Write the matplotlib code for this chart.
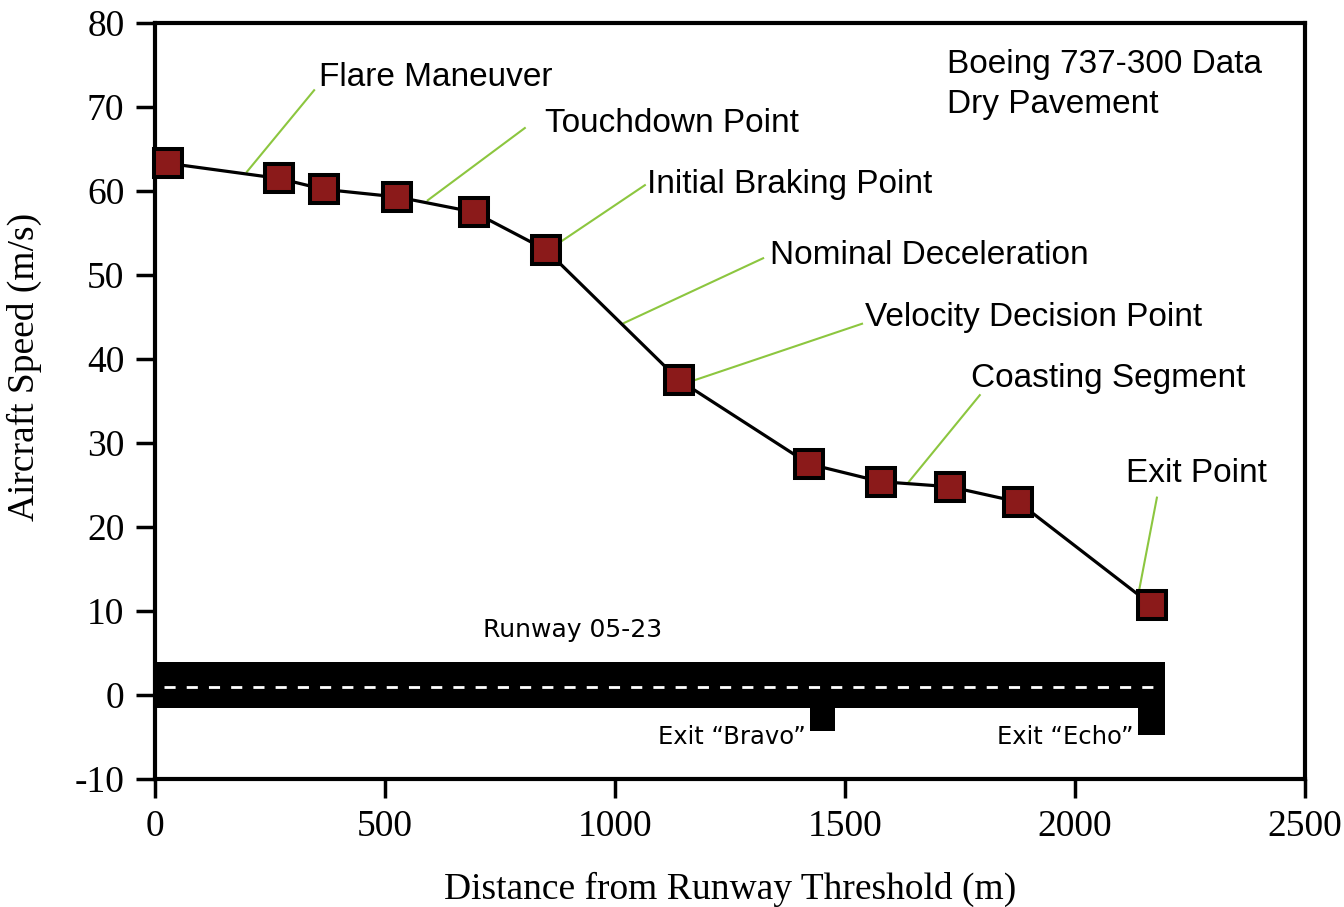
import matplotlib
matplotlib.use('Agg')
import matplotlib.pyplot as plt

plt.rcParams['axes.unicode_minus'] = False

# landing roll data
dist = [28, 270, 367, 526, 693, 850, 1139, 1422, 1578, 1728, 1876, 2167]
speed = [63.3, 61.5, 60.2, 59.3, 57.5, 53.0, 37.5, 27.5, 25.4, 24.8, 23.0, 10.7]

# callouts: label, line start (x, y), line end (x, y), text anchor (x, y)
labels = ['Flare Maneuver', 'Touchdown Point', 'Initial Braking Point',
          'Nominal Deceleration', 'Velocity Decision Point',
          'Coasting Segment', 'Exit Point']
line_from = [(200, 62.3), (593, 58.9), (883, 54.0), (1020, 44.3),
             (1174, 37.5), (1639, 25.4), (2137, 11.8)]
line_to = [(346, 72.0), (804, 67.5), (1065, 60.7), (1322, 52.0),
           (1537, 44.2), (1793, 35.7), (2178, 23.5)]
text_pos = [(357, 73.5), (847, 68.0), (1070, 60.8), (1336, 52.3),
            (1544, 45.0), (1773, 37.7), (2110, 26.4)]

# runway geometry (m, and speed-axis units for the drawing)
runway_len = 2195
runway_top = 3.9
runway_bot = -1.5
centerline = 0.95
exits = [(1424, 1478, -4.3, 'Exit \u201cBravo\u201d'),
         (2137, 2195, -4.7, 'Exit \u201cEcho\u201d')]

green = '#8cc63f'
maroon = '#8b1a1a'

fig = plt.figure(figsize=(13.44, 9.07), dpi=100)
ax = fig.add_axes([0.1153, 0.1411, 0.971 - 0.1153, 0.9746 - 0.1411])

# runway
ax.fill_between([0, runway_len], runway_bot, runway_top, color='black', lw=0)
for x0, x1, yb, name in exits:
    ax.fill_between([x0, x1], yb, runway_bot + 0.1, color='black', lw=0)
    ax.text(x0 - 10, -5.0, name, ha='right', va='center', fontsize=17.5,
            family='DejaVu Sans')
ax.plot([20, runway_len - 20], [centerline, centerline], color='white',
        lw=2, dashes=(4, 4))
ax.text(907, 7.8, 'Runway 05-23', ha='center', va='center', fontsize=18,
        family='DejaVu Sans')

# speed profile
ax.plot(dist, speed, color='black', lw=2.3, marker='s', markersize=19.5,
        markerfacecolor=maroon, markeredgecolor='black', markeredgewidth=2.9,
        clip_on=False, zorder=5)

for lab, p0, p1, tp in zip(labels, line_from, line_to, text_pos):
    ax.plot([p0[0], p1[0]], [p0[1], p1[1]], color=green, lw=1.5, zorder=4)
    ax.text(tp[0], tp[1], lab, ha='left', va='center', fontsize=24,
            family='Liberation Sans')

ax.text(0.689, 0.966, 'Boeing 737-300 Data\nDry Pavement', transform=ax.transAxes,
        ha='left', va='top', fontsize=24, family='Liberation Sans',
        linespacing=1.38)

ax.set_xlim(0, 2500)
ax.set_ylim(-10, 80)
ax.set_xticks([0, 500, 1000, 1500, 2000, 2500])
ax.set_yticks(range(-10, 81, 10))
for s in ax.spines.values():
    s.set_linewidth(3)
ax.tick_params(direction='out', length=14, width=2.5, pad=8, labelsize=27)
for lbl in ax.get_xticklabels() + ax.get_yticklabels():
    lbl.set_family('Liberation Serif')

ax.set_xlabel('Distance from Runway Threshold (m)', family='Liberation Serif',
              fontsize=27, labelpad=20)
ax.set_ylabel('Aircraft Speed (m/s)', family='Liberation Serif', fontsize=27)
ax.yaxis.set_label_coords(-0.098, 0.545)

fig.savefig('out.png', dpi=100)
